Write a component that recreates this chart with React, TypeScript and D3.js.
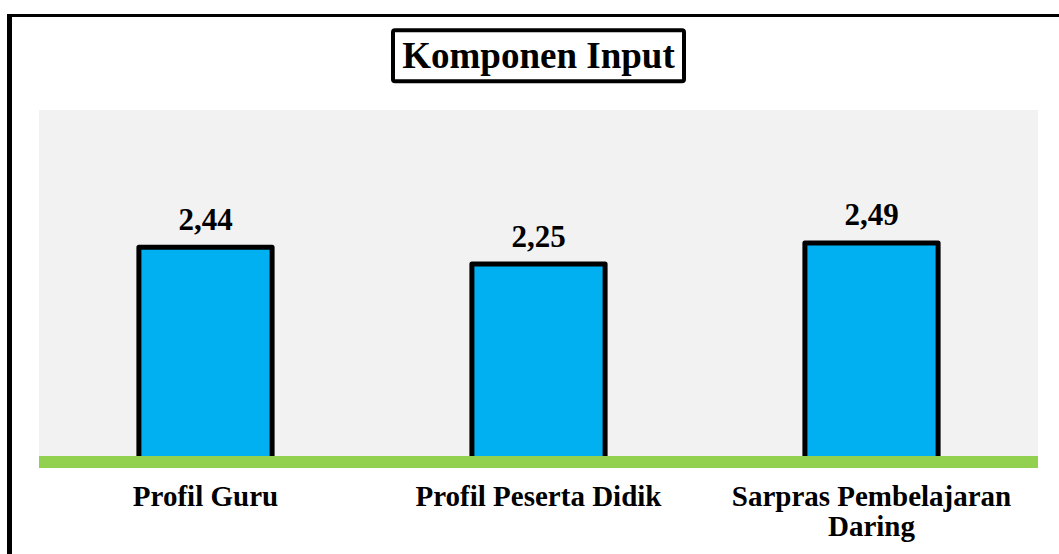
import React from "react";
import * as d3 from "d3";

const categories: string[] = ["Profil Guru", "Profil Peserta Didik", "Sarpras Pembelajaran Daring"];
const values: number[] = [2.44, 2.25, 2.49];
const valueLabels: string[] = ["2,44", "2,25", "2,49"];
const title = "Komponen Input";

const W = 1059;
const H = 554;
const plotLeft = 39;
const plotRight = 1038;
const plotTop = 110;
const zeroY = 462;

function wrapLabel(label: string, maxChars: number): string[] {
  const words = label.split(" ");
  const lines: string[] = [];
  let cur = "";
  for (const w of words) {
    const next = cur ? cur + " " + w : w;
    if (next.length > maxChars && cur) {
      lines.push(cur);
      cur = w;
    } else cur = next;
  }
  if (cur) lines.push(cur);
  return lines;
}

export default function App() {
  const x = d3.scaleBand<string>().domain(categories).range([plotLeft, plotRight]).padding(0);
  const y = d3.scaleLinear().domain([0, 4]).range([zeroY, plotTop]);
  const bw = x.bandwidth();
  const barW = bw * 0.4;
  const font = "'Liberation Serif', 'Times New Roman', serif";

  return (
    <svg width={W} height={H} style={{ position: "absolute", left: 0, top: 0, background: "#fff" }} fontFamily={font}>
      <rect x={0} y={0} width={W} height={H} fill="#fff" />
      {/* outer frame (clipped) */}
      <line x1={9.5} y1={14} x2={9.5} y2={H + 5} stroke="#000" strokeWidth={5} />
      <line x1={7} y1={15.5} x2={W + 5} y2={15.5} stroke="#000" strokeWidth={3} />
      {/* title box */}
      <rect x={393} y={30.3} width={291} height={51} fill="#fff" stroke="#000" strokeWidth={4} rx={2} />
      <text x={538.5} y={68} textAnchor="middle" fontSize={37} fontWeight="bold" fill="#000">
        {title}
      </text>
      {/* plot area */}
      <rect x={plotLeft} y={plotTop} width={plotRight - plotLeft} height={zeroY - plotTop} fill="#F2F2F2" />
      {categories.map((c, i) => {
        const cx = (x(c) as number) + bw / 2;
        const top = y(values[i]);
        return (
          <g key={c}>
            <rect
              x={cx - barW / 2}
              y={top}
              width={barW}
              height={zeroY - top}
              fill="#00B0F0"
              stroke="#000"
              strokeWidth={5}
              strokeLinejoin="round"
            />
            <text x={cx} y={top - 17.5} textAnchor="middle" fontSize={31} fontWeight="bold" fill="#000">
              {valueLabels[i]}
            </text>
          </g>
        );
      })}
      {/* baseline */}
      <rect x={plotLeft} y={zeroY - 6} width={plotRight - plotLeft} height={12} fill="#92D050" />
      {categories.map((c) => {
        const cx = (x(c) as number) + bw / 2;
        const lines = wrapLabel(c, 21);
        return (
          <text key={"l" + c} textAnchor="middle" fontSize={29} fontWeight="bold" fill="#000">
            {lines.map((ln, j) => (
              <tspan key={j} x={cx} y={506 + j * 30}>
                {ln}
              </tspan>
            ))}
          </text>
        );
      })}
    </svg>
  );
}
